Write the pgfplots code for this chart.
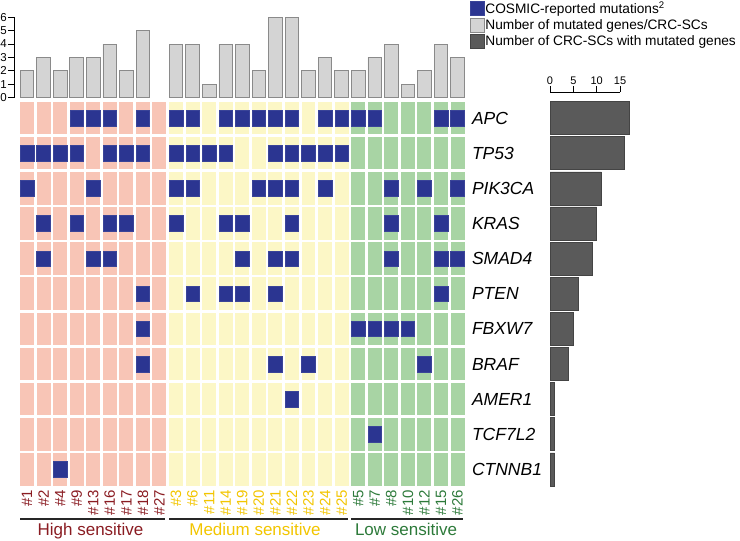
\documentclass[border=0pt]{standalone}
\usepackage{pgfplots}
\pgfplotsset{compat=1.18}
\usepackage{fontspec}
\setmainfont{Liberation Sans}
\definecolor{hiBG}{HTML}{F8C5B6}
\definecolor{medBG}{HTML}{FCF7C6}
\definecolor{lowBG}{HTML}{A8D4A4}
\definecolor{blueC}{HTML}{2B3591}
\definecolor{blueE}{HTML}{3A4498}
\definecolor{lightC}{HTML}{D4D4D4}
\definecolor{lightE}{HTML}{8A8A8A}
\definecolor{darkC}{HTML}{5A5A5A}
\definecolor{darkE}{HTML}{444444}
\definecolor{hiT}{HTML}{8A1C22}
\definecolor{medT}{HTML}{F2C500}
\definecolor{lowT}{HTML}{2D7A3A}
\newcommand{\hiL}[1]{\textcolor{hiT}{\##1}}
\newcommand{\meL}[1]{\textcolor{medT}{\##1}}
\newcommand{\loL}[1]{\textcolor{lowT}{\##1}}
\begin{document}
\begin{tikzpicture}
\useasboundingbox (0,0) rectangle (740pt,-541pt);

% ---- top bar chart: number of mutated genes per CRC-SC
\begin{axis}[at={(14pt,-97.5pt)}, anchor=south west, x=16.56pt, y=13.37pt,
  xmin=-0.784, xmax=26.5, ymin=0, ymax=6,
  axis x line=none, axis y line*=left,
  ytick={0,1,2,3,4,5,6}, tick align=outside, major tick length=6pt,
  yticklabel style={font=\fontsize{11.5}{11.5}\selectfont, inner sep=1pt},
  /pgf/number format/assume math mode=true,
  axis line style={line width=0.8pt}, tick style={line width=0.8pt, black},
  clip=false]
\addplot[ybar, bar width=13.6pt, fill=lightC, draw=lightE, line width=0.8pt] coordinates {
(0,2) (1,3) (2,2) (3,3) (4,3) (5,4) (6,2) (7,5)
(9,4) (10,4) (11,1) (12,4) (13,4) (14,2) (15,6) (16,6) (17,2) (18,3) (19,2)
(20,2) (21,3) (22,4) (23,1) (24,2) (25,4) (26,3)};
\end{axis}

% ---- heatmap
\begin{axis}[at={(18.7pt,-487pt)}, anchor=south west, x=16.56pt, y=35.14pt,
  xmin=-0.5, xmax=26.5, ymin=-0.5, ymax=10.5, clip=false, axis on top,
  axis line style={draw=none}, major tick length=0pt, minor tick length=0pt,
  xtick={0,...,26},
  xticklabels={\hiL{1},\hiL{2},\hiL{4},\hiL{9},\hiL{13},\hiL{16},\hiL{17},\hiL{18},\hiL{27},
    \meL{3},\meL{6},\meL{11},\meL{14},\meL{19},\meL{20},\meL{21},\meL{22},\meL{23},\meL{24},\meL{25},
    \loL{5},\loL{7},\loL{8},\loL{10},\loL{12},\loL{15},\loL{26}},
  xticklabel style={yshift=-3pt, rotate=90, anchor=east, inner sep=0pt, font=\fontsize{15}{15}\selectfont},
  ytick={0,...,10},
  yticklabels={CTNNB1,TCF7L2,AMER1,BRAF,FBXW7,PTEN,SMAD4,KRAS,PIK3CA,TP53,APC},
  yticklabel pos=right,
  yticklabel style={anchor=west, inner sep=0pt, xshift=6pt, font=\fontsize{17.5}{17.5}\selectfont\itshape},
  minor xtick={-0.5,0.5,...,26.5}, minor ytick={-0.5,0.5,...,10.5},
  xminorgrids=true, yminorgrids=true, xmajorgrids=false, ymajorgrids=false,
  minor grid style={white, line width=2.6pt}]
\addplot[fill=hiBG, draw=none] coordinates {(-0.5,-0.5) (8.5,-0.5) (8.5,10.5) (-0.5,10.5)} -- cycle;
\addplot[fill=medBG, draw=none] coordinates {(8.5,-0.5) (19.5,-0.5) (19.5,10.5) (8.5,10.5)} -- cycle;
\addplot[fill=lowBG, draw=none] coordinates {(19.5,-0.5) (26.5,-0.5) (26.5,10.5) (19.5,10.5)} -- cycle;
\addplot[only marks, mark=square*, mark size=6.8pt,
  mark options={fill=blueC, draw=blueE, line width=0.5pt, yscale=1.15}] coordinates {
(3,10) (4,10) (5,10) (7,10) (9,10) (10,10) (12,10) (13,10) (14,10) (15,10) (16,10) (18,10) (19,10) (20,10) (21,10) (25,10) (26,10)
(0,9) (1,9) (2,9) (3,9) (5,9) (6,9) (7,9) (9,9) (10,9) (11,9) (12,9) (15,9) (16,9) (17,9) (18,9) (19,9)
(0,8) (4,8) (9,8) (10,8) (14,8) (15,8) (16,8) (18,8) (22,8) (24,8) (26,8)
(1,7) (3,7) (5,7) (6,7) (9,7) (12,7) (13,7) (16,7) (22,7) (25,7)
(1,6) (4,6) (5,6) (13,6) (15,6) (16,6) (22,6) (25,6) (26,6)
(7,5) (10,5) (12,5) (13,5) (15,5) (25,5)
(7,4) (20,4) (21,4) (22,4) (23,4)
(7,3) (15,3) (17,3) (24,3)
(16,2)
(21,1)
(2,0)};
\draw[line width=1.2pt, black!85] (axis cs:-0.42,-1.41) -- (axis cs:8.33,-1.41);
\draw[line width=1.2pt, black!85] (axis cs:8.58,-1.41) -- (axis cs:19.38,-1.41);
\draw[line width=1.2pt, black!85] (axis cs:19.57,-1.41) -- (axis cs:26.33,-1.41);
\node[anchor=base, text=hiT, font=\fontsize{17}{17}\selectfont, inner sep=0pt] at (axis cs:3.84,-1.866) {High sensitive};
\node[anchor=base, text=medT, font=\fontsize{17}{17}\selectfont, inner sep=0pt] at (axis cs:13.77,-1.866) {Medium sensitive};
\node[anchor=base, text=lowT, font=\fontsize{17}{17}\selectfont, inner sep=0pt] at (axis cs:22.89,-1.866) {Low sensitive};
\end{axis}

% ---- right bar chart: number of CRC-SCs with mutated genes
\begin{axis}[at={(550pt,-487pt)}, anchor=south west, x=4.667pt, y=35.14pt,
  xmin=0, xmax=15, ymin=-0.5, ymax=10.74, clip=false,
  axis x line*=top, axis y line=none,
  xtick={0,5,10,15}, tick align=outside, major tick length=6pt,
  xticklabel style={font=\fontsize{11}{11}\selectfont, inner sep=1pt},
  /pgf/number format/assume math mode=true,
  axis line style={line width=0.8pt}, tick style={black, line width=0.8pt},
  legend image code/.code={\draw[#1] (0pt,-6.8pt) rectangle (13.6pt,6.8pt);},
  legend style={at={(-1.143,1.233)}, anchor=north west, draw=none, fill=none,
    inner sep=0pt, row sep=2.2pt, font=\fontsize{13.7}{13.7}\selectfont,
    nodes={inner sep=1.2pt}},
  legend cell align=left]
\addplot[xbar, bar width=33pt, fill=darkC, draw=darkE, line width=0.6pt, forget plot] coordinates {
(17,10) (16,9) (11,8) (10,7) (9,6) (6,5) (5,4) (4,3) (1,2) (1,1) (1,0)};
\addlegendimage{fill=blueC, draw=blueE}
\addlegendentry{COSMIC-reported mutations\textsuperscript{2}}
\addlegendimage{fill=lightC, draw=lightE}
\addlegendentry{Number of mutated genes/CRC-SCs}
\addlegendimage{fill=darkC, draw=darkE}
\addlegendentry{Number of CRC-SCs with mutated genes}
\end{axis}
\end{tikzpicture}
\end{document}
